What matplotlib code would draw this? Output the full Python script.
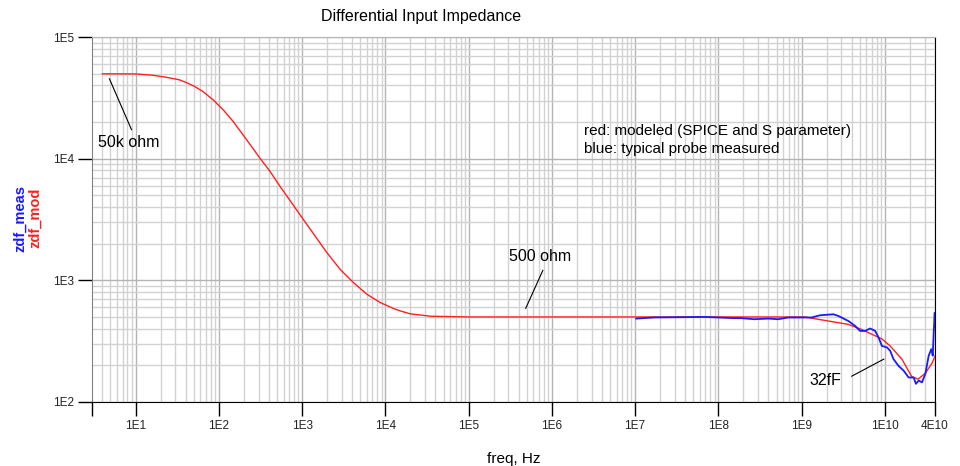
import matplotlib
matplotlib.use("Agg")
import matplotlib.pyplot as plt
from matplotlib.ticker import LogLocator, FixedLocator, NullFormatter

plt.rcParams["font.family"] = ["Liberation Sans", "DejaVu Sans"]

# modeled impedance (red)
freq_mod = [4.0, 10.0, 15.5, 22, 27.9, 33.9, 40.8, 51.4, 64.7, 85.3, 113, 149, 216,
            312, 411, 543, 751, 1038, 1436, 1986, 2872, 4150, 6020, 8710, 12.6e3,
            15.2e3, 20e3, 35e3, 1e5, 1e6, 1e7, 1e8, 1.09e9, 2.1e9, 3.6e9,
            5.2e9, 9.2e9, 1.15e10, 1.6e10, 2.1e10, 2.5e10, 3.06e10, 3.7e10, 4e10]
z_mod = [49.8e3, 49.7e3, 48.6e3, 47e3, 45.6e3, 44.4e3, 42.2e3, 39.2e3, 35.6e3,
         30.5e3, 25.2e3, 20.2e3, 14.3e3, 10.1e3, 7.88e3, 5.93e3, 4.33e3, 3.16e3,
         2.31e3, 1.69e3, 1.23e3, 957, 768, 656, 586, 560, 530, 507, 500, 500, 500,
         500, 500, 463, 435, 396, 330, 290, 225, 162, 154, 172, 210, 238]

# typical probe measurement (blue)
freq_meas = [1.03e7, 1.24e7, 1.69e7, 6.8e7, 9.9e7, 1.56e8, 1.89e8, 2.7e8, 4.0e8,
             5.2e8, 6.9e8, 1.32e9, 1.66e9, 2.41e9, 2.77e9, 3.65e9, 4.39e9, 5.04e9,
             5.79e9, 6.65e9, 7.64e9, 8.4e9, 9.2e9, 1.06e10, 1.16e10, 1.27e10,
             1.46e10, 1.68e10, 1.93e10, 2.22e10, 2.36e10, 2.55e10, 2.79e10,
             3.06e10, 3.36e10, 3.61e10, 3.76e10, 3.86e10, 3.97e10, 4e10]
z_meas = [485, 489, 495, 500, 495, 489, 489, 479, 485, 479, 495, 495, 516, 526,
          509, 463, 422, 384, 384, 402, 384, 339, 289, 281, 263, 225, 198, 181,
          159, 159, 141, 150, 145, 170, 240, 272, 240, 372, 543, 420]

x_ticks = [1e1, 1e2, 1e3, 1e4, 1e5, 1e6, 1e7, 1e8, 1e9, 1e10, 4e10]
x_labels = ["1E1", "1E2", "1E3", "1E4", "1E5", "1E6", "1E7", "1E8", "1E9", "1E10", "4E10"]
y_ticks = [1e2, 1e3, 1e4, 1e5]
y_labels = ["1E2", "1E3", "1E4", "1E5"]

fig = plt.figure(figsize=(9.6, 4.66), dpi=100)
ax = fig.add_axes([92 / 960, 1 - 402 / 466, (935 - 92) / 960, (402 - 37) / 466])
ax.set_xscale("log")
ax.set_yscale("log")
ax.set_xlim(3, 4e10)
ax.set_ylim(1e2, 1e5)

ax.plot(freq_mod, z_mod, color="#ff2020", lw=1.0, zorder=3)
ax.plot(freq_meas, z_meas, color="#1a1aff", lw=1.3, zorder=4)

# grid
ax.xaxis.set_minor_locator(LogLocator(base=10, subs=range(2, 10), numticks=30))
ax.yaxis.set_minor_locator(LogLocator(base=10, subs=range(2, 10), numticks=30))
ax.xaxis.set_minor_formatter(NullFormatter())
ax.yaxis.set_minor_formatter(NullFormatter())
ax.grid(True, which="major", color="#b4b4b4", lw=1.0)
ax.grid(True, which="minor", color="#d2d2d2", lw=1.0)
ax.tick_params(which="minor", length=0)

ax.xaxis.set_major_locator(FixedLocator([3] + x_ticks))
ax.set_xticklabels([""] + x_labels)
ax.yaxis.set_major_locator(FixedLocator(y_ticks))
ax.set_yticklabels(y_labels)
ax.tick_params(which="major", length=10, width=1, color="black",
               labelsize=8.5, labelcolor="#222222", pad=3)
ax.xaxis.get_major_ticks()[0].tick1line.set_color("#808080")
ax.xaxis.get_major_ticks()[0].gridline.set_visible(False)

ax.spines["left"].set_color("#808080")
ax.spines["bottom"].set_color("black")
ax.spines["right"].set_color("black")
ax.spines["top"].set_color("#b4b4b4")

# labels
fig.text(421 / 960, 1 - 17 / 466, "Differential Input Impedance", ha="center",
         va="center", fontsize=11.5)
ax.set_xlabel("freq, Hz", fontsize=11, labelpad=14)
fig.text(20 / 960, 1 - 218 / 466, "zdf_meas", rotation=90, ha="center", va="center",
         color="#1a1aff", fontsize=10.5, fontweight="bold")
fig.text(35 / 960, 1 - 218 / 466, "zdf_mod", rotation=90, ha="center", va="center",
         color="#ff2020", fontsize=10.5, fontweight="bold")

# annotations
ax.plot([4.86, 8.95], [45.3e3, 17.3e3], color="black", lw=0.8)
ax.text(3.58, 13.5e3, "50k ohm", fontsize=11.5, va="center", ha="left")
ax.plot([7.8e5, 4.86e5], [1208, 589], color="black", lw=0.8)
ax.text(3.03e5, 1574, "500 ohm", fontsize=11.5, va="center", ha="left")
ax.plot([4.0e9, 9.7e9], [163, 225], color="black", lw=0.8)
ax.text(1.25e9, 151, "32fF", fontsize=11.5, va="center", ha="left")
ax.text(2.43e6, 17e3, "red: modeled (SPICE and S parameter)", fontsize=11,
        va="center", ha="left")
ax.text(2.43e6, 12.1e3, "blue: typical probe measured", fontsize=11,
        va="center", ha="left")

fig.savefig("out.png", dpi=100)
